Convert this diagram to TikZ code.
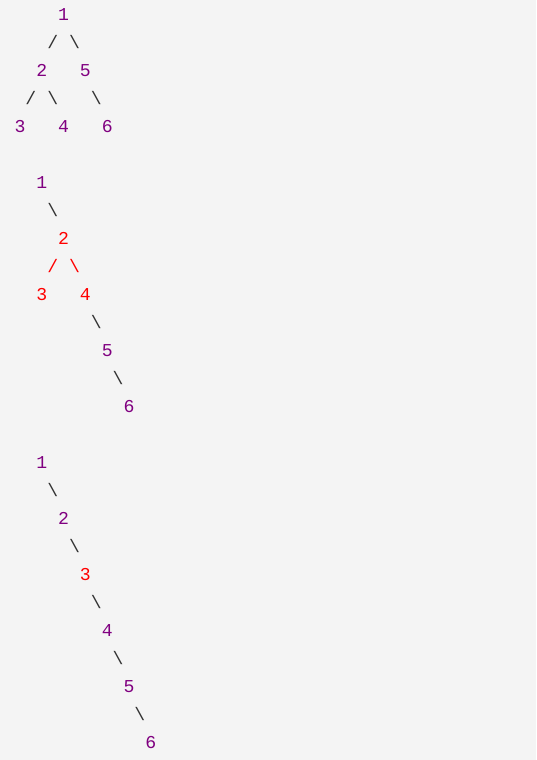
\documentclass[tikz,border=0pt]{standalone}
\usepackage{fontspec}
\setmonofont{Liberation Mono}
\definecolor{bg}{HTML}{F4F4F4}
\definecolor{numpurple}{HTML}{800080}
\definecolor{numred}{HTML}{FF0000}
\definecolor{slashgray}{HTML}{333333}
\tikzset{
  glyph/.style={inner sep=0pt, outer sep=0pt, anchor=base, font=\ttfamily\fontsize{13.6pt}{16pt}\selectfont},
  num/.style={glyph, text=numpurple},
  numr/.style={glyph, text=numred},
  lnk/.style={glyph, text=slashgray},
  lnkr/.style={glyph, text=numred},
}
% column k, row r  ->  (20+10.9k, 15+28r+5)
\newcommand{\gpos}[2]{({20+10.9*#1},{20+28*#2})}
\begin{document}
\begin{tikzpicture}[x=0.75pt,y=-0.75pt]
\fill[bg] (0,0) rectangle (536,760);
\useasboundingbox (0,0) rectangle (536,760);
% ---- tree 1 ----
\node[num] (a1) at \gpos{4}{0} {1};
\node[lnk] (a12) at \gpos{3}{1} {/};
\node[lnk] (a15) at \gpos{5}{1} {\char`\\};
\node[num] (a2) at \gpos{2}{2} {2};
\node[num] (a5) at \gpos{6}{2} {5};
\node[lnk] (a23) at \gpos{1}{3} {/};
\node[lnk] (a24) at \gpos{3}{3} {\char`\\};
\node[lnk] (a56) at \gpos{7}{3} {\char`\\};
\node[num] (a3) at \gpos{0}{4} {3};
\node[num] (a4) at \gpos{4}{4} {4};
\node[num] (a6) at \gpos{8}{4} {6};
% ---- tree 2 ----
\node[num] (b1) at \gpos{2}{6} {1};
\node[lnk] (b12) at \gpos{3}{7} {\char`\\};
\node[numr] (b2) at \gpos{4}{8} {2};
\node[lnkr] (b23) at \gpos{3}{9} {/};
\node[lnkr] (b24) at \gpos{5}{9} {\char`\\};
\node[numr] (b3) at \gpos{2}{10} {3};
\node[numr] (b4) at \gpos{6}{10} {4};
\node[lnk] (b45) at \gpos{7}{11} {\char`\\};
\node[num] (b5) at \gpos{8}{12} {5};
\node[lnk] (b56) at \gpos{9}{13} {\char`\\};
\node[num] (b6) at \gpos{10}{14} {6};
% ---- tree 3 ----
\node[num] (c1) at \gpos{2}{16} {1};
\node[lnk] (c12) at \gpos{3}{17} {\char`\\};
\node[num] (c2) at \gpos{4}{18} {2};
\node[lnk] (c23) at \gpos{5}{19} {\char`\\};
\node[numr] (c3) at \gpos{6}{20} {3};
\node[lnk] (c34) at \gpos{7}{21} {\char`\\};
\node[num] (c4) at \gpos{8}{22} {4};
\node[lnk] (c45) at \gpos{9}{23} {\char`\\};
\node[num] (c5) at \gpos{10}{24} {5};
\node[lnk] (c56) at \gpos{11}{25} {\char`\\};
\node[num] (c6) at \gpos{12}{26} {6};
\end{tikzpicture}
\end{document}
